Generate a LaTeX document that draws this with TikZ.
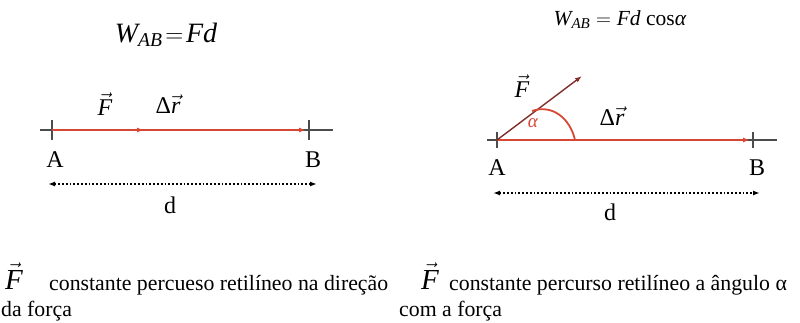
\documentclass[tikz,border=0pt]{standalone}
\usepackage{fontspec}
\setmainfont{Liberation Serif}
\usepackage{xcolor}
\definecolor{vecred}{RGB}{214,72,52}
\definecolor{fdark}{RGB}{130,45,40}
\usetikzlibrary{arrows.meta}
\newcommand{\vF}{$\vec{\mathit{F}}$}
\newcommand{\vdr}{Δ$\vec{\mathit{r}}$}

\begin{document}
\begin{tikzpicture}[x=1pt,y=-1pt,
axis/.style={draw=black!70,line width=1.2pt},
vec/.style={draw=vecred,line width=2.4pt,-{Latex[length=7pt,width=5pt]}},
fvec/.style={draw=fdark,line width=1.4pt,-{Latex[length=7pt,width=5pt]}},
dist/.style={dotted,line width=1.8pt,{Latex[length=7pt,width=5pt]}-{Latex[length=7pt,width=5pt]}},
lbl/.style={inner sep=1pt,font=\fontsize{24}{24}\selectfont},
note/.style={anchor=west,inner sep=1pt,font=\fontsize{21.8}{22}\selectfont}]
\useasboundingbox (0,0) rectangle (800,322);
% left: force along the path
\node[lbl,font=\fontsize{28}{28}\selectfont] (w1) at (166,35) {$\mathit{W}_{\mathit{AB}}\!=\!\mathit{Fd}$};
\coordinate (L1) at (40,130);
\coordinate (R1) at (333,130);
\coordinate (A1) at (52,130);
\coordinate (B1) at (309,130);
\coordinate (F1) at (144,130);
\draw[axis] (L1) -- (R1);
\draw[axis] ([yshift=10pt]A1) -- ([yshift=-10pt]A1);
\draw[axis] ([yshift=10pt]B1) -- ([yshift=-10pt]B1);
\draw[vec] (A1) -- ([xshift=-3pt]B1);
\draw[vec] (A1) -- (F1);
\node[lbl] (f1) at (105,104) {\vF};
\node[lbl] (r1) at (168,104) {\vdr};
\node[lbl] (a1) at (55,160) {A};
\node[lbl] (b1) at (313,160) {B};
\coordinate (ds1) at (48,184);
\coordinate (de1) at (317,184);
\draw[dist] (ds1) -- (de1);
\node[lbl] (d1) at (170,205) {d};
% right: force at an angle
\node[lbl,font=\fontsize{21.5}{21.5}\selectfont] (w2) at (620,20) {$\mathit{W}_{\mathit{AB}} = \mathit{Fd}$ cos\textit{α}};
\coordinate (L2) at (487,140);
\coordinate (R2) at (777,140);
\coordinate (A2) at (497,140);
\coordinate (B2) at (753,140);
\coordinate (F2) at (582,76);
\draw[axis] (L2) -- (R2);
\draw[axis] ([yshift=8pt]A2) -- ([yshift=-8pt]A2);
\draw[axis] ([yshift=8pt]B2) -- ([yshift=-8pt]B2);
\draw[vec] (A2) -- ([xshift=-3pt]B2);
\draw[fvec] (A2) -- (F2);
\coordinate (as2) at (532,111);
\coordinate (ae2) at (575,140);
\draw[vecred,line width=1.8pt] (as2) .. controls (552,104) and (570,118) .. (ae2);
\node[lbl] (f2) at (522,86) {\vF};
\node[lbl,text=vecred,font=\fontsize{19}{19}\selectfont] (al2) at (533,123) {\textit{α}};
\node[lbl] (r2) at (612,116) {\vdr};
\node[lbl] (a2) at (497,168) {A};
\node[lbl] (b2) at (757,168) {B};
\coordinate (ds2) at (493,193);
\coordinate (de2) at (760,193);
\draw[dist] (ds2) -- (de2);
\node[lbl] (d2) at (610,212) {d};
% captions
\node[lbl,font=\fontsize{29}{29}\selectfont] (cf1) at (14,276) {\vF};
\node[note] (c1) at (48,285) {constante percueso retilíneo na direção};
\node[note] (c1b) at (0,311) {da força};
\node[lbl,font=\fontsize{29}{29}\selectfont] (cf2) at (430,276) {\vF};
\node[note] (c2) at (448,285) {constante percurso retilíneo a ângulo α};
\node[note] (c2b) at (398,311) {com a força};
\end{tikzpicture}
\end{document}
